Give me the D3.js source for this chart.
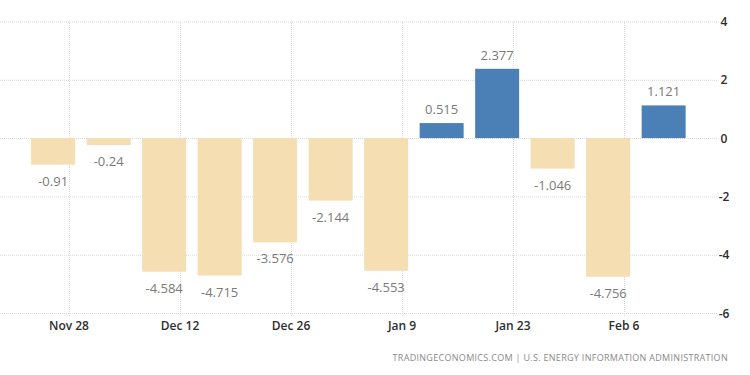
<!DOCTYPE html>
<html>
<head>
<meta charset="utf-8">
<script src="https://cdn.jsdelivr.net/npm/d3@7"></script>
<style>
  body { margin: 0; background: #fff; font-family: "Open Sans", "Noto Sans", sans-serif; }
  .grid line { stroke: #d8d8d8; stroke-dasharray: 1,1; }
  .grid path { display: none; }
</style>
</head>
<body>
<div id="vis"></div>
<script>
// weekly changes
const weeks = ["2016-11-26", "2016-12-03", "2016-12-10", "2016-12-17", "2016-12-24", "2016-12-31",
               "2017-01-07", "2017-01-14", "2017-01-21", "2017-01-28", "2017-02-04", "2017-02-11"];
const values = [-0.91, -0.24, -4.584, -4.715, -3.576, -2.144, -4.553, 0.515, 2.377, -1.046, -4.756, 1.121];
const labels = ["-0.91", "-0.24", "-4.584", "-4.715", "-3.576", "-2.144", "-4.553", "0.515", "2.377", "-1.046", "-4.756", "1.121"];
const xTicks = ["2016-11-28", "2016-12-12", "2016-12-26", "2017-01-09", "2017-01-23", "2017-02-06"];
const yTicks = [4, 2, 0, -2, -4, -6];

const width = 750;
const height = 375;
const parse = d3.timeParse("%Y-%m-%d");

const data = weeks.map((w, i) => ({ date: parse(w), value: values[i], label: labels[i] }));

const svg = d3.select("#vis")
  .append("svg")
  .attr("width", width)
  .attr("height", height);

// x: Nov 28 -> 69px, Feb 6 -> 624px
const x = d3.scaleTime()
  .domain([parse("2016-11-28"), parse("2017-02-06")])
  .range([69, 624]);

const y = d3.scaleLinear()
  .domain([-6, 4])
  .range([313, 21.5]);

const plotLeft = 0, plotRight = 718;
const barW = 44;

// horizontal grid
svg.append("g")
  .attr("class", "grid")
  .attr("transform", `translate(${plotLeft},0)`)
  .call(d3.axisLeft(y).tickValues(yTicks).tickSize(-(plotRight - plotLeft)).tickFormat(""));

// vertical grid
svg.append("g")
  .attr("class", "grid")
  .attr("transform", `translate(0,${y(-6) + 3})`)
  .call(d3.axisBottom(x).tickValues(xTicks.map(parse)).tickSize(-(y(-6) + 3 - y(4))).tickFormat(""));

// bars
svg.selectAll("rect.bar")
  .data(data)
  .enter().append("rect")
  .attr("class", "bar")
  .attr("x", d => x(d.date) - barW / 2)
  .attr("width", barW)
  .attr("y", d => y(Math.max(0, d.value)))
  .attr("height", d => Math.abs(y(d.value) - y(0)))
  .attr("fill", d => d.value < 0 ? "#f4deb2" : "#4a80b5");

// value labels
svg.selectAll("text.val")
  .data(data)
  .enter().append("text")
  .attr("class", "val")
  .attr("x", d => x(d.date))
  .attr("y", d => d.value < 0 ? y(d.value) + 21 : y(d.value) - 9)
  .attr("text-anchor", "middle")
  .attr("fill", "#7a7a7a")
  .attr("font-size", "13px")
  .text(d => d.label);

// x tick labels
svg.selectAll("text.xt")
  .data(xTicks)
  .enter().append("text")
  .attr("class", "xt")
  .attr("x", d => x(parse(d)))
  .attr("y", 330)
  .attr("text-anchor", "middle")
  .attr("fill", "#2e2e2e")
  .attr("font-size", "12px")
  .attr("font-weight", 600)
  .text(d => d3.timeFormat("%b %-d")(parse(d)));

// y tick labels
svg.selectAll("text.yt")
  .data(yTicks)
  .enter().append("text")
  .attr("class", "yt")
  .attr("x", 724)
  .attr("y", d => y(d) + 4.5)
  .attr("text-anchor", "middle")
  .attr("fill", "#2e2e2e")
  .attr("font-size", "12px")
  .attr("font-weight", 600)
  .text(d => d);

// source
svg.append("text")
  .attr("x", 728)
  .attr("y", 361)
  .attr("text-anchor", "end")
  .attr("fill", "#8a8a8a")
  .attr("font-size", "9px")
  .attr("letter-spacing", "0.3px")
  .text("TRADINGECONOMICS.COM  |  U.S. ENERGY INFORMATION ADMINISTRATION");
</script>
</body>
</html>
